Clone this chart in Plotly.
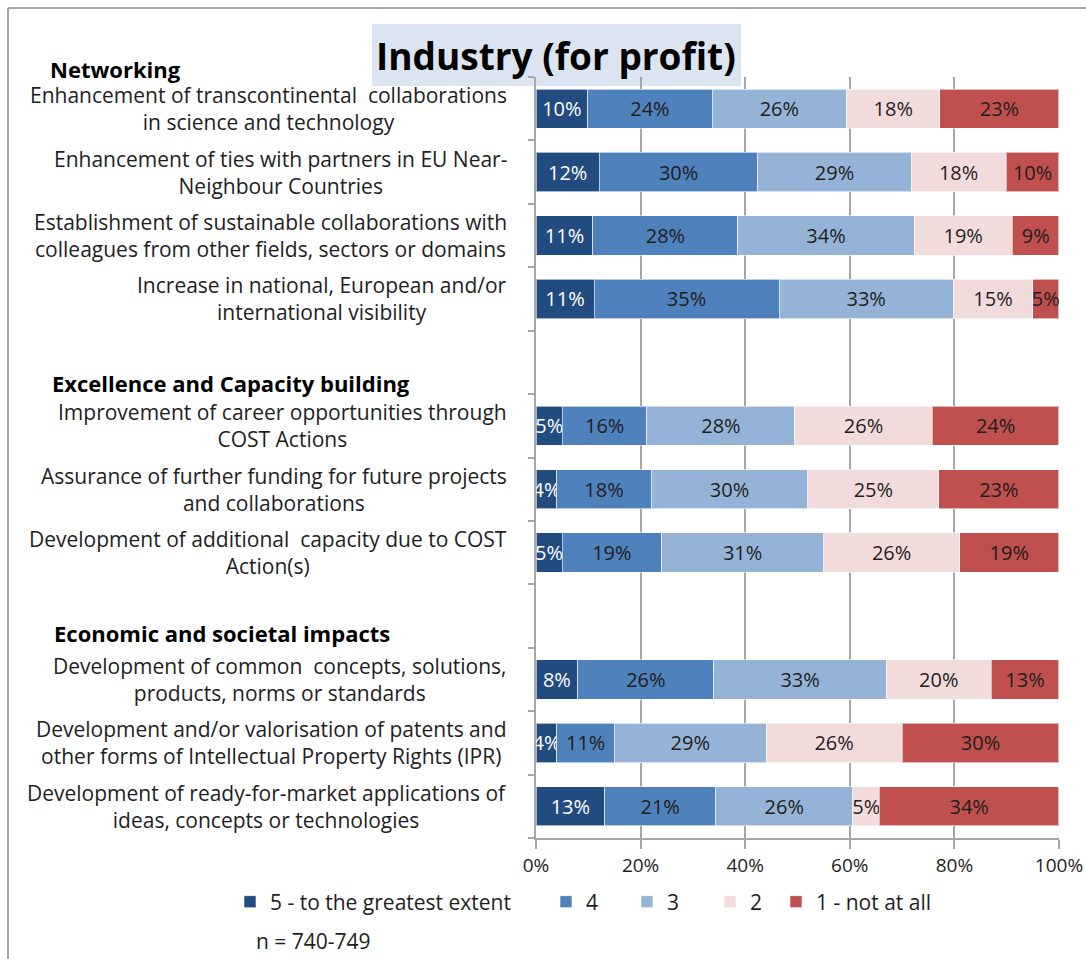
import plotly.graph_objects as go

# ---------------- data ----------------
title_text = "Industry (for profit)"
series_names = ["5 - to the greatest extent", "4", "3", "2", "1 - not at all"]
series_colors = ["#224B80", "#4F81BD", "#95B3D7", "#F2DCDB", "#C0504D"]
text_colors = ["#FFFFFF", "#1E1E1E", "#1E1E1E", "#1E1E1E", "#1E1E1E"]

sections = ["Networking", "Excellence and Capacity building", "Economic and societal impacts"]

categories = [
    "Enhancement of transcontinental  collaborations<br>in science and technology",
    "Enhancement of ties with partners in EU Near-<br>Neighbour Countries",
    "Establishment of sustainable collaborations with<br>colleagues from other fields, sectors or domains",
    "Increase in national, European and/or<br>international visibility",
    "Improvement of career opportunities through<br>COST Actions",
    "Assurance of further funding for future projects<br>and collaborations",
    "Development of additional  capacity due to COST<br>Action(s)",
    "Development of common  concepts, solutions,<br>products, norms or standards",
    "Development and/or valorisation of patents and<br>other forms of Intellectual Property Rights (IPR)",
    "Development of ready-for-market applications of<br>ideas, concepts or technologies",
]
# slot index of each bar (blank slots hold the section headings)
slots = [0, 1, 2, 3, 5, 6, 7, 9, 10, 11]

v5 = [10, 12, 11, 11, 5, 4, 5, 8, 4, 13]
v4 = [24, 30, 28, 35, 16, 18, 19, 26, 11, 21]
v3 = [26, 29, 34, 33, 28, 30, 31, 33, 29, 26]
v2 = [18, 18, 19, 15, 26, 25, 26, 20, 26, 5]
v1 = [23, 10, 9, 5, 24, 23, 19, 13, 30, 34]
series_values = [v5, v4, v3, v2, v1]

x_ticks = [0, 20, 40, 60, 80, 100]
sample_note = "n = 740-749"

# ---------------- layout geometry (pixels) ----------------
W, H = 1086, 959
L, R, T, B = 536, 27, 77, 121
PW = W - L - R
PH = H - T - B


def px_x(px):
    return (px - L) / PW


def px_y(py):
    return 1 - (py - T) / PH


FONT = "Open Sans"
TXT = "#1E1E1E"
fig = go.Figure()

# each row is shown as shares of its own total (100 % stacked bar)
row_totals = [sum(col) for col in zip(*series_values)]

legend_text_px = [268, 584, 665, 748, 814]
for i, (name, vals) in enumerate(zip(series_names, series_values)):
    lname = "legend" if i == 0 else f"legend{i+1}"
    shares = [v / t * 99.999 for v, t in zip(vals, row_totals)]
    fig.add_trace(go.Bar(
        orientation="h",
        y=slots,
        x=shares,
        name=name,
        width=0.62,
        marker=dict(color=series_colors[i], line=dict(color="rgba(255,255,255,0.6)", width=1)),
        text=[f"{v}%" for v in vals],
        texttemplate="%{text}",
        textposition="inside",
        insidetextanchor="middle",
        textangle=0,
        constraintext="none",
        insidetextfont=dict(family=FONT, size=20, color=text_colors[i]),
        cliponaxis=False,
        legend=lname,
        hoverinfo="name+text",
    ))

legends = {}
for i in range(5):
    key = "legend" if i == 0 else f"legend{i+1}"
    legends[key] = dict(
        x=px_x(legend_text_px[i] - 38), xanchor="left",
        y=px_y(902), yanchor="middle",
        orientation="h",
        font=dict(family=FONT, size=21, color=TXT),
        bgcolor="rgba(0,0,0,0)",
        itemwidth=30,
        traceorder="normal",
    )

annotations = []
for cat, s in zip(categories, slots):
    annotations.append(dict(
        x=px_x(509), xref="paper", xanchor="right",
        y=s, yref="y", yanchor="middle",
        text=cat, showarrow=False, align="center",
        font=dict(family=FONT, size=21, color=TXT),
    ))

section_pos = [(48, 69), (50, 383), (52, 633)]
for sec, (sx, sy) in zip(sections, section_pos):
    annotations.append(dict(
        x=px_x(sx), xref="paper", xanchor="left",
        y=px_y(sy), yref="paper", yanchor="middle",
        text=f"<b>{sec}</b>", showarrow=False,
        font=dict(family=FONT, size=22, color="#000000"),
    ))

annotations.append(dict(
    x=px_x(556), xref="paper", xanchor="center",
    y=px_y(55), yref="paper", yanchor="middle",
    text=f"<b>{title_text}</b>", showarrow=False,
    font=dict(family=FONT, size=37, color="#000000"),
))
annotations.append(dict(
    x=px_x(254), xref="paper", xanchor="left",
    y=px_y(941), yref="paper", yanchor="middle",
    text=sample_note, showarrow=False,
    font=dict(family=FONT, size=21, color=TXT),
))

shapes = [
    dict(type="rect", xref="paper", yref="paper",
         x0=px_x(372), x1=px_x(741), y0=px_y(86), y1=px_y(24),
         fillcolor="#DBE5F1", line=dict(width=0), layer="below"),
    dict(type="line", xref="paper", yref="paper",
         x0=px_x(8), x1=px_x(1090), y0=px_y(8), y1=px_y(8),
         line=dict(color="#A6A6A6", width=2)),
    dict(type="line", xref="paper", yref="paper",
         x0=px_x(8), x1=px_x(8), y0=px_y(8), y1=px_y(965),
         line=dict(color="#A6A6A6", width=2)),
]

fig.update_layout(
    width=W, height=H,
    margin=dict(l=L, r=R, t=T, b=B, pad=0),
    barmode="stack",
    paper_bgcolor="white",
    plot_bgcolor="rgba(0,0,0,0)",
    showlegend=True,
    uniformtext=dict(minsize=20, mode="show"),
    annotations=annotations,
    shapes=shapes,
    font=dict(family=FONT, size=19, color=TXT),
    **legends,
)

fig.update_xaxes(
    range=[0, 100],
    tickvals=x_ticks,
    ticktext=[f"{t}%" for t in x_ticks],
    showgrid=True, gridcolor="#A6A6A6", gridwidth=1.5,
    showline=True, linecolor="#A6A6A6", linewidth=1.5,
    ticks="outside", ticklen=9, tickcolor="#A6A6A6", tickwidth=1.5,
    tickfont=dict(family=FONT, size=19, color=TXT),
    zeroline=False, fixedrange=True, automargin=False,
)
fig.update_yaxes(
    range=[11.5, -0.5],
    tickvals=[s + 0.5 for s in range(-1, 12)],
    showticklabels=False,
    showgrid=False,
    showline=True, linecolor="#A6A6A6", linewidth=1.5,
    ticks="outside", ticklen=6, tickcolor="#A6A6A6", tickwidth=1.5,
    zeroline=False, fixedrange=True, automargin=False,
)

fig.write_html(
    "out.html",
    config={"displayModeBar": False},
    post_script="document.body.style.margin='0px';document.body.style.overflow='hidden';",
)
